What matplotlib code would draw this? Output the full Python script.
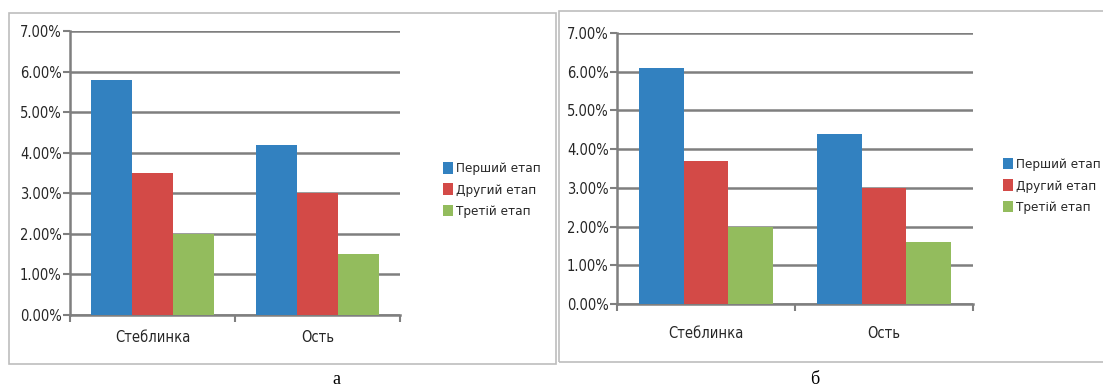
import matplotlib.pyplot as plt
import matplotlib.patches as mpatches
from matplotlib.ticker import FuncFormatter
import numpy as np

plt.rcParams['font.family'] = ['DejaVu Sans']
plt.rcParams['font.stretch'] = 'condensed'

# Дані
kategorii = ['Стеблинка', 'Ость']
etapy = ['Перший етап', 'Другий етап', 'Третій етап']
kolory = ['#3281C0', '#D34A47', '#93BC5D']

dani_a = [[5.8, 4.2],   # Перший етап
          [3.5, 3.0],   # Другий етап
          [2.0, 1.5]]   # Третій етап
dani_b = [[6.1, 4.4],
          [3.7, 3.0],
          [2.0, 1.6]]

W, H = 1103, 387
fig = plt.figure(figsize=(W / 100, H / 100), dpi=100)


def px(x0, y0, x1, y1):
    # прямокутник у пікселях -> координати фігури
    return [x0 / W, 1 - y1 / H, (x1 - x0) / W, (y1 - y0) / H]


def panel(ramka, osi, legenda_xy, dani, pidpys, pidpys_xy, vidstup):
    # рамка навколо діаграми
    fig.patches.append(mpatches.Rectangle((ramka[0] / W, 1 - ramka[3] / H),
                                          (ramka[2] - ramka[0]) / W,
                                          (ramka[3] - ramka[1]) / H,
                                          transform=fig.transFigure,
                                          fill=False, ec='#bdbdbd', lw=1.2))
    ax = fig.add_axes(px(*osi))
    x = np.arange(len(kategorii))
    w = 0.25
    for i, (nazva, kolir) in enumerate(zip(etapy, kolory)):
        ax.bar(x + (i - 1) * w, dani[i], w, color=kolir, label=nazva, zorder=3)
    ax.set_xlim(-0.5, 1.5)
    ax.set_ylim(0, 7)
    ax.set_yticks(np.arange(0, 8, 1))
    ax.yaxis.set_major_formatter(FuncFormatter(lambda v, p: f'{v:.2f}%'))
    ax.grid(axis='y', color='#7f7f7f', lw=1.8, zorder=0)
    ax.set_xticks(x)
    ax.set_xticklabels(kategorii)
    ax.set_xticks([-0.5, 0.5, 1.5], minor=True)
    ax.tick_params(axis='x', which='major', length=0, pad=vidstup, labelsize=10.5,
                   labelcolor='#262626')
    ax.tick_params(axis='x', which='minor', length=5, width=1.5, color='#7f7f7f')
    ax.tick_params(axis='y', length=5, width=1.5, color='#7f7f7f',
                   labelsize=10.5, labelcolor='#262626', pad=1)
    for s in ['top', 'right']:
        ax.spines[s].set_visible(False)
    for s in ['left', 'bottom']:
        ax.spines[s].set_color('#7f7f7f')
        ax.spines[s].set_linewidth(1.8)
    ax.legend(loc='center left', bbox_to_anchor=(legenda_xy[0] / W, 1 - legenda_xy[1] / H),
              bbox_transform=fig.transFigure, frameon=False, fontsize=9.6,
              handlelength=0.75, handleheight=0.95, handletextpad=0.25,
              labelspacing=0.6, borderpad=0, borderaxespad=0, labelcolor='#262626')
    fig.text(pidpys_xy[0] / W, 1 - pidpys_xy[1] / H, pidpys, family='Liberation Serif',
             fontsize=13, ha='center', va='center')


panel((9, 13, 556, 364), (70, 31, 400, 315), (443, 190), dani_a, 'а', (336, 379), 11)
panel((559, 11, 1108, 362), (617, 33, 973, 304), (1003, 186), dani_b, 'б', (815, 379), 16)

fig.savefig('out.png', dpi=100)
